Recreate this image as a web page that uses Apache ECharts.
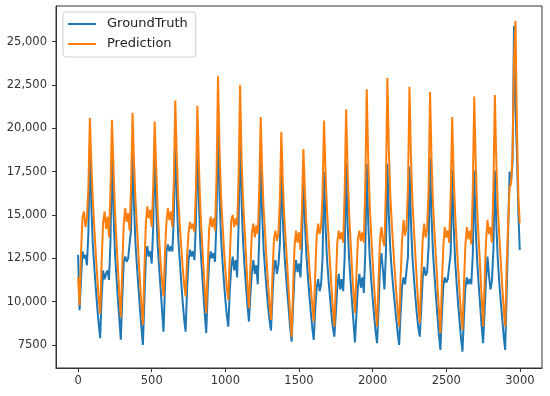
<!DOCTYPE html>
<html>
<head>
<meta charset="utf-8">
<script src="https://cdn.jsdelivr.net/npm/echarts@6/dist/echarts.min.js"></script>
<style>
html,body{margin:0;padding:0;background:#fff;}
#c{width:550px;height:396px;}
</style>
</head>
<body>
<div id="c"></div>
<script>
// sample step along x (time index), last sample is index 2999
const xStep = 10;
const xLast = 2999;
const xTicks = [0, 500, 1000, 1500, 2000, 2500, 3000];
const yTicks = [7500, 10000, 12500, 15000, 17500, 20000, 22500, 25000];
const yTickLabels = ['7500', '10,000', '12,500', '15,000', '17,500', '20,000', '22,500', '25,000'];
const seriesNames = ['GroundTruth', 'Prediction'];

const groundTruth = [
12700,9500,11300,12900,12500,12700,12100,14000,19200,
15500,13300,12000,10800,9700,8700,7900,
10300,11800,11300,11600,11800,11250,13500,18500,
15300,12900,11500,10200,9000,7800,
10200,12300,12600,12300,12500,12400,14200,18900,
15500,13300,12000,10800,9600,8500,7500,
10000,12500,13200,12600,12900,12200,14300,18800,
15600,13300,12000,10800,9500,8270,
10800,12900,13300,12900,13200,12900,14800,19600,
16000,13700,12400,11200,10000,9000,8270,
10700,12400,13000,12600,12900,12400,14500,19400,
15800,13300,11900,10600,9300,8180,
10600,12300,12900,12500,12800,12300,14800,20150,
16200,13800,12400,11200,10100,9200,8560,
10600,12000,12600,11800,12400,11400,14500,19900,
15800,13500,12100,10900,9800,8850,
10400,11700,12400,11600,12100,11000,13600,18100,
15000,13000,11800,10700,9700,8900,8330,
10300,11900,12400,11600,12100,13300,17800,
14800,12900,11700,10600,9600,8500,7690,
9800,11600,12400,11700,12200,11400,13200,17500,
14600,12700,11500,10400,9400,8500,7790,
9500,10800,11300,10600,11000,12500,17500,
14400,12500,11300,10300,9300,8500,7980,
9300,10800,11600,10700,11300,10600,12600,18000,
14500,12500,11200,10000,8800,7650,
9300,10900,11600,10800,11400,10500,12800,17950,
14600,12600,11300,10200,9200,8300,7600,
9500,12000,12800,11800,10700,12800,17950,
15000,13000,11800,10800,9900,9000,8200,7500,
9300,10900,11400,11000,10900,12600,17800,
14600,12600,11400,10300,9300,8500,7980,
9600,11400,12000,11500,11700,13200,18300,
14900,12800,11500,10300,9200,8100,7210,
9200,10900,11400,11100,11300,11200,12800,17600,
14400,12400,11100,9900,8900,7900,7110,
9100,10800,11400,11000,11300,11000,12700,17560,
14200,12300,11000,9800,8600,7600,
9400,11300,12600,11500,10700,11200,13000,17560,
14400,12400,11100,10000,9000,8000,7210,
10500,14000,17500,17000,18000,25900,21000,18500,15000,12980
];

const prediction = [
11400,9800,12800,14900,15200,14300,14800,16600,20600,
18000,15800,14300,12800,11400,10200,9300,
12300,14600,15200,14200,14900,13700,16400,20500,
17800,15300,13600,12000,10400,9100,
12000,14500,15400,14600,15100,14100,16800,20900,
18000,15800,14300,12700,11200,9800,8650,
11800,14500,15500,14800,15300,14300,16600,20400,
17800,15300,13700,12300,11200,10300,
12800,14600,15400,14700,15200,14300,17000,21600,
18400,16000,14500,13200,12000,11000,10300,
12600,14000,14600,14200,14500,14000,16400,21300,
18000,15400,13700,12200,10700,9330,
11900,14200,14900,14300,14800,14100,17200,23000,
19000,16200,14600,13100,11800,10800,10100,
12500,14700,15000,14300,14800,14400,17200,22500,
18200,15900,14300,12700,11000,9620,
11900,14000,14500,13700,14400,13900,16400,20650,
17400,15300,13900,12400,11000,9800,8940,
11600,13600,14100,13500,13900,15800,19800,
16900,14900,13500,12100,10600,9200,7980,
10800,13200,14100,13400,14000,13000,15400,18800,
16400,14500,13200,12000,10900,9800,8850,
11500,13800,14500,13900,14300,16200,20450,
17500,15300,13800,12300,10900,9500,8560,
11000,13400,14100,13600,14000,13400,16300,21100,
17600,15200,13500,11900,10500,9330,
11600,13600,14100,13500,14000,13400,16600,22260,
18200,15600,13900,12300,10900,9600,8560,
11200,13600,14300,13500,13200,16500,22900,
18800,16100,14500,13100,11800,10600,9500,8560,
11400,13600,14700,13800,14300,16600,22400,
18400,15800,14200,12700,11200,9800,8750,
11300,13600,14500,13700,14200,16500,22100,
18200,15600,14000,12500,11000,9500,8170,
10900,13200,14300,13700,14100,13400,16200,20650,
17300,15100,13500,12000,10600,9300,8370,
11000,13300,14300,13600,14100,13300,16500,21840,
17900,15300,13600,12000,10300,8560,
11100,13500,14700,13900,14300,13400,16600,21930,
18000,15400,13800,12300,10900,9500,8560,
12000,14500,16600,16800,18500,24000,26200,20000,16000,14530
];

function toPairs(vals) {
  return vals.map((v, i) => [Math.min(i * xStep, xLast), v]);
}

const chart = echarts.init(document.getElementById('c'), null, {renderer: 'canvas'});
const labelFont = {fontFamily: 'DejaVu Sans', fontSize: 11.5, color: '#333'};

chart.setOption({
  animation: false,
  backgroundColor: '#fff',
  grid: {
    left: 56, right: 8, top: 6, bottom: 28,
    show: true, borderColor: '#333', borderWidth: 1, backgroundColor: 'transparent'
  },
  legend: {
    orient: 'vertical',
    left: 63, top: 12,
    data: seriesNames,
    icon: 'rect',
    itemWidth: 28, itemHeight: 2,
    itemGap: 6,
    padding: [5, 8, 6, 5],
    backgroundColor: 'rgba(255,255,255,0.85)',
    borderColor: '#cccccc', borderWidth: 1, borderRadius: 3,
    textStyle: {fontFamily: 'DejaVu Sans', fontSize: 13, color: '#222', lineHeight: 14, padding: [0, 0, 0, 6]}
  },
  xAxis: {
    type: 'value', min: -150, max: 3150,
    splitLine: {show: false},
    axisLine: {show: true, onZero: false, lineStyle: {color: '#333'}},
    axisTick: {show: true, inside: false, length: 4, lineStyle: {color: '#333'}, customValues: xTicks},
    axisLabel: Object.assign({margin: 7, customValues: xTicks, formatter: v => String(v)}, labelFont)
  },
  yAxis: {
    type: 'value', min: 6170, max: 27060,
    splitLine: {show: false},
    axisLine: {show: true, onZero: false, lineStyle: {color: '#333'}},
    axisTick: {show: true, inside: false, length: 4, lineStyle: {color: '#333'}, customValues: yTicks},
    axisLabel: Object.assign({
      margin: 9, customValues: yTicks,
      formatter: v => { const k = yTicks.indexOf(v); return k >= 0 ? yTickLabels[k] : ''; }
    }, labelFont)
  },
  series: [
    {
      name: seriesNames[0], type: 'line', data: toPairs(groundTruth),
      showSymbol: false, symbol: 'none',
      lineStyle: {color: '#1f77b4', width: 2},
      itemStyle: {color: '#1f77b4'}, z: 2
    },
    {
      name: seriesNames[1], type: 'line', data: toPairs(prediction),
      showSymbol: false, symbol: 'none',
      lineStyle: {color: '#ff7f0e', width: 2},
      itemStyle: {color: '#ff7f0e'}, z: 3
    }
  ]
});
</script>
</body>
</html>
